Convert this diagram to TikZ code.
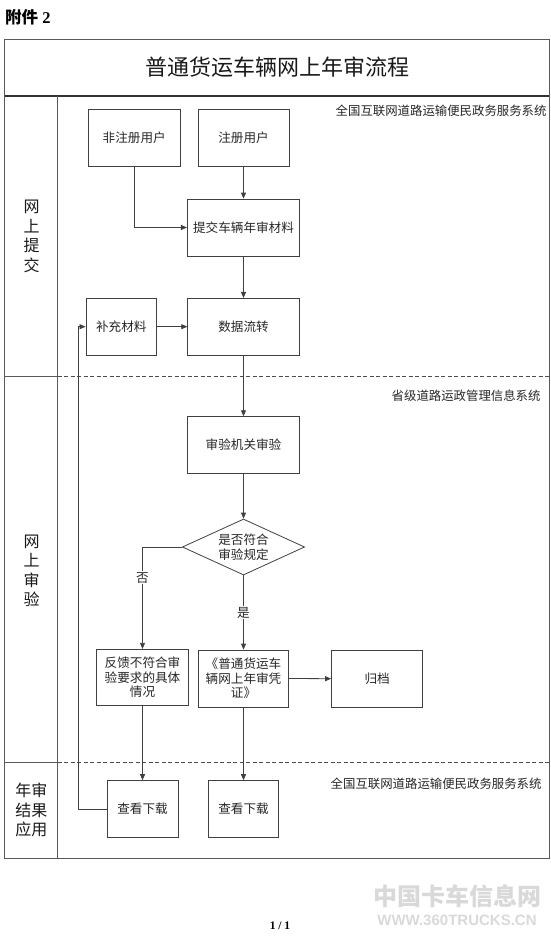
\documentclass[tikz,border=0pt]{standalone}
\usepackage{fontspec}
\setmainfont{Liberation Serif}
\newfontfamily\cjk{Noto Sans CJK SC}
\newfontfamily\wmlat{Liberation Sans}
\usetikzlibrary{shapes.geometric,arrows.meta}
\newcommand\myboxfont{\cjk\fontsize{12.6}{14.5}\selectfont}
\newcommand\mylanefont{\cjk\fontsize{16}{19.5}\selectfont}
\newcommand\mytitlefont{\cjk\fontsize{22}{26}\selectfont}
\newcommand\mysysfont{\cjk\fontsize{12.4}{14}\selectfont}
\begin{document}
\begin{tikzpicture}[x=1pt,y=-1pt,
  ln/.style={draw=black!75,line width=0.8pt},
  frm/.style={draw=black!65,line width=0.9pt},
  dsh/.style={draw=black!70,line width=0.8pt,dash pattern=on 4pt off 2.5pt},
  box/.style={ln,rectangle,inner sep=1pt,align=center,font=\myboxfont,text=black!85},
  dec/.style={ln,diamond,aspect=2.18,inner sep=0pt,align=center,font=\myboxfont,text=black!85,minimum width=122.3pt,minimum height=56pt},
  arr/.style={ln,-{Triangle[length=6pt,width=5pt]}},
  lbl/.style={fill=white,inner sep=1pt,font=\myboxfont,text=black!85},
  lane/.style={align=center,font=\mylanefont,text=black!90},
  sys/.style={anchor=east,font=\mysysfont,text=black!85,inner sep=0pt}
]
\useasboundingbox (0,0) rectangle (550,936);

% header
\node[anchor=west,inner sep=0pt,font=\bfseries\fontsize{16.5}{18}\selectfont] (att) at (5,17.5) {{\cjk 附件} 2};

% frame
\draw[frm] (4.5,39.3) rectangle (549,858);
\draw[draw=black!80,line width=1.4pt] (4.5,96) -- (549,96);
\draw[frm] (57.7,96) -- (57.7,858);
\draw[frm] (4.5,376.7) -- (57.7,376.7);
\draw[dsh] (57.7,376.7) -- (549,376.7);
\draw[frm] (4.5,762.3) -- (57.7,762.3);
\draw[dsh] (57.7,762.3) -- (549,762.3);

\node[font=\mytitlefont,text=black!90] (title) at (277,67.5) {普通货运车辆网上年审流程};

% lane labels
\node[lane] (lane1) at (31.5,236.5) {网\\上\\提\\交};
\node[lane] (lane2) at (31.5,571) {网\\上\\审\\验};
\node[lane] (lane3) at (31.3,810) {年审\\结果\\应用};

% system labels
\node[sys] (sys1) at (546.7,110.7) {全国互联网道路运输便民政务服务系统};
\node[sys] (sys2) at (540.7,396) {省级道路运政管理信息系统};
\node[sys] (sys3) at (541.7,783.3) {全国互联网道路运输便民政务服务系统};

% boxes
\node[box,minimum width=91.7pt,minimum height=57pt] (fzc) at (134.2,137.5) {非注册用户};
\node[box,minimum width=91pt,minimum height=57pt] (zc) at (243.5,137.5) {注册用户};
\node[box,minimum width=112.3pt,minimum height=57pt] (tj) at (243.5,227.5) {提交车辆年审材料};
\node[box,minimum width=70.7pt,minimum height=56.7pt] (bc) at (121.3,326.7) {补充材料};
\node[box,minimum width=111.6pt,minimum height=56.7pt] (sj) at (243.5,326.7) {数据流转};
\node[box,minimum width=112.3pt,minimum height=56.6pt] (sy) at (243.5,445) {审验机关审验};
\node[dec] (dm) at (243.5,547) {是否符合\\审验规定};
\node[box,minimum width=91.3pt,minimum height=56.4pt] (fk) at (142.5,677.5) {反馈不符合审\\验要求的具体\\情况};
\node[box,minimum width=90.3pt,minimum height=57pt] (pz) at (243.5,678.5) {《普通货运车\\辆网上年审凭\\证》};
\node[box,minimum width=91.2pt,minimum height=56.5pt] (gd) at (377.1,678.7) {归档};
\node[box,minimum width=71pt,minimum height=56.8pt] (ck1) at (142.5,809) {查看下载};
\node[box,minimum width=70.6pt,minimum height=56.8pt] (ck2) at (243.5,809) {查看下载};

% connectors
\draw[arr] (fzc.south) |- (tj.west);
\draw[arr] (zc.south) -- (tj.north);
\draw[arr] (tj.south) -- (sj.north);
\draw[arr] (bc.east) -- (sj.west);
\draw[arr] (sj.south) -- (sy.north);
\draw[arr] (sy.south) -- (dm.north);
\draw[arr] (dm.west) -| node[lbl,pos=0.65] (no) {否} (fk.north);
\draw[arr] (dm.south) -- node[lbl,pos=0.5] (yes) {是} (pz.north);
\draw[arr] (pz.east) -- (gd.west);
\draw[arr] (fk.south) -- (ck1.north);
\draw[arr] (pz.south) -- (ck2.north);
\coordinate (fbk) at (78.3,809);
\draw[arr] (ck1.west) -- (fbk) |- (bc.west);

% footer
\node[font=\bfseries\fontsize{11.5}{13}\selectfont,inner sep=0pt] (pg) at (280,926) {1 / 1};
\node[font=\cjk\bfseries\fontsize{24}{26}\selectfont,text=gray!30,inner sep=0pt] (wm1) at (457,896.7) {中国卡车信息网};
\node[font=\wmlat\bfseries\fontsize{15}{17}\selectfont,text=gray!30,inner sep=0pt] (wm2) at (457,920) {WWW.360TRUCKS.CN};
\end{tikzpicture}
\end{document}
